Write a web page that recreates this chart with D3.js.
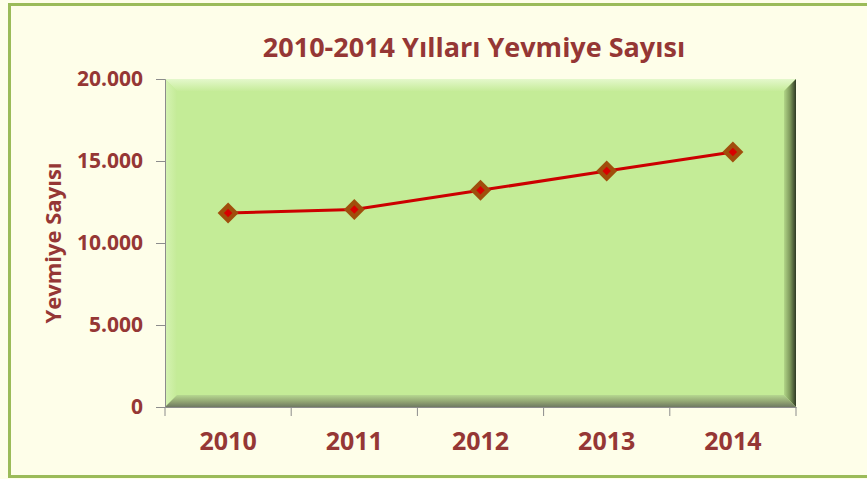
<!DOCTYPE html>
<html>
  <head>
    <meta charset="utf-8" />
    <title>Yevmiye Sayısı</title>
    <script src="https://cdn.jsdelivr.net/npm/d3@7"></script>
    <style type="text/css">
      body { margin: 0; background: #fefee9; }
      svg { display: block; font-family: 'Open Sans', sans-serif; font-weight: bold; }
    </style>
  </head>
  <body>
    <svg id="chart" width="867" height="479"></svg>
    <script type="text/javascript">
      // data
      var years = ['2010', '2011', '2012', '2013', '2014'];
      var counts = [11830, 12040, 13210, 14390, 15550];
      var yTicks = [0, 5000, 10000, 15000, 20000];

      var W = 867, H = 479;
      var m = { left: 165, right: 796, top: 79, bottom: 407 };
      var txt = '#953735';

      var svg = d3.select('#chart');
      var defs = svg.append('defs');

      // frame
      svg.append('rect')
        .attr('x', 0).attr('y', 0).attr('width', W).attr('height', H)
        .attr('fill', '#fefee9');
      svg.append('rect')
        .attr('x', 9.5).attr('y', 4.5).attr('width', W + 20).attr('height', 472)
        .attr('fill', 'none').attr('stroke', '#9bbb59').attr('stroke-width', 3);

      var x = d3.scaleBand().domain(years).range([m.left, m.right]);
      var y = d3.scaleLinear().domain([0, 20000]).range([m.bottom, m.top]);

      // plot area with bevel
      var pw = m.right - m.left, ph = m.bottom - m.top, b = 12;
      function grad(id, x1, y1, x2, y2, stops) {
        var g = defs.append('linearGradient').attr('id', id)
          .attr('x1', x1).attr('y1', y1).attr('x2', x2).attr('y2', y2);
        stops.forEach(function (s) {
          g.append('stop').attr('offset', s[0]).attr('stop-color', s[1]);
        });
      }
      grad('gTop', 0, 0, 0, 1, [[0, '#e4f8cc'], [1, '#c6ec9a']]);
      grad('gLeft', 0, 0, 1, 0, [[0, '#d6f3b4'], [1, '#c4eb97']]);
      grad('gRight', 0, 0, 1, 0, [[0, '#b2d688'], [0.5, '#7f9a5c'], [1, '#2f3a24']]);
      grad('gBottom', 0, 0, 0, 1, [[0, '#b6d890'], [0.6, '#8ea070'], [1, '#6f7a62']]);

      var pg = svg.append('g').attr('class', 'plot');
      pg.append('rect')
        .attr('x', m.left).attr('y', m.top).attr('width', pw).attr('height', ph)
        .attr('fill', '#c4ec97');
      pg.append('polygon')
        .attr('points', [[m.left, m.top], [m.right, m.top], [m.right - b, m.top + b], [m.left + b, m.top + b]].join(' '))
        .attr('fill', 'url(#gTop)');
      pg.append('polygon')
        .attr('points', [[m.left, m.top], [m.left + b, m.top + b], [m.left + b, m.bottom - b], [m.left, m.bottom]].join(' '))
        .attr('fill', 'url(#gLeft)');
      pg.append('polygon')
        .attr('points', [[m.right, m.top], [m.right, m.bottom], [m.right - b, m.bottom - b], [m.right - b, m.top + b]].join(' '))
        .attr('fill', 'url(#gRight)');
      pg.append('polygon')
        .attr('points', [[m.left, m.bottom], [m.left + b, m.bottom - b], [m.right - b, m.bottom - b], [m.right, m.bottom]].join(' '))
        .attr('fill', 'url(#gBottom)');

      // axes
      var yAxis = d3.axisLeft(y).tickValues(yTicks).tickSize(9).tickPadding(13)
        .tickFormat(function (d) { return d === 0 ? '0' : d3.format(',')(d).replace(/,/g, '.'); });
      var gy = svg.append('g').attr('transform', 'translate(' + m.left + ',0)').call(yAxis);
      gy.select('.domain').attr('stroke', '#8c8c8c');
      gy.selectAll('.tick line').attr('stroke', '#8c8c8c');
      gy.selectAll('text').attr('fill', txt).attr('font-size', 21)
        .attr('font-family', 'Open Sans, sans-serif').attr('font-weight', 'bold');

      var xAxis = d3.axisBottom(x).tickSize(0).tickPadding(25);
      var gx = svg.append('g').attr('transform', 'translate(0,' + m.bottom + ')').call(xAxis);
      gx.select('.domain').attr('stroke', '#8c8c8c');
      gx.selectAll('text').attr('fill', txt).attr('font-size', 25)
        .attr('font-family', 'Open Sans, sans-serif').attr('font-weight', 'bold');
      // band boundary ticks
      gx.selectAll('.sep')
        .data(years.map(function (d) { return x(d); }).concat([m.right]))
        .enter().append('line')
        .attr('x1', function (d) { return d; }).attr('x2', function (d) { return d; })
        .attr('y1', 0).attr('y2', 9)
        .attr('stroke', '#8c8c8c');

      // title
      svg.append('text')
        .attr('x', 474).attr('y', 57)
        .attr('text-anchor', 'middle')
        .attr('fill', txt).attr('font-size', 27)
        .text('2010-2014 Yılları Yevmiye Sayısı');

      // y axis title
      svg.append('text')
        .attr('transform', 'translate(61,243) rotate(-90)')
        .attr('text-anchor', 'middle')
        .attr('fill', txt).attr('font-size', 22)
        .text('Yevmiye Sayısı');

      // line and markers
      var pts = years.map(function (d, i) { return { year: d, value: counts[i] }; });
      var line = d3.line()
        .x(function (d) { return x(d.year) + x.bandwidth() / 2; })
        .y(function (d) { return y(d.value); });
      svg.append('path')
        .attr('d', line(pts))
        .attr('fill', 'none').attr('stroke', '#cc0000').attr('stroke-width', 3);

      var mk = svg.append('g').selectAll('g').data(pts).enter().append('g')
        .attr('transform', function (d) {
          return 'translate(' + (x(d.year) + x.bandwidth() / 2) + ',' + y(d.value) + ')';
        });
      mk.append('path')
        .attr('d', d3.symbol().type(d3.symbolSquare).size(220))
        .attr('transform', 'rotate(45)')
        .attr('fill', '#a04e0c');
      mk.append('path')
        .attr('d', d3.symbol().type(d3.symbolSquare).size(36))
        .attr('transform', 'rotate(45)')
        .attr('fill', '#d80000');
    </script>
  </body>
</html>
